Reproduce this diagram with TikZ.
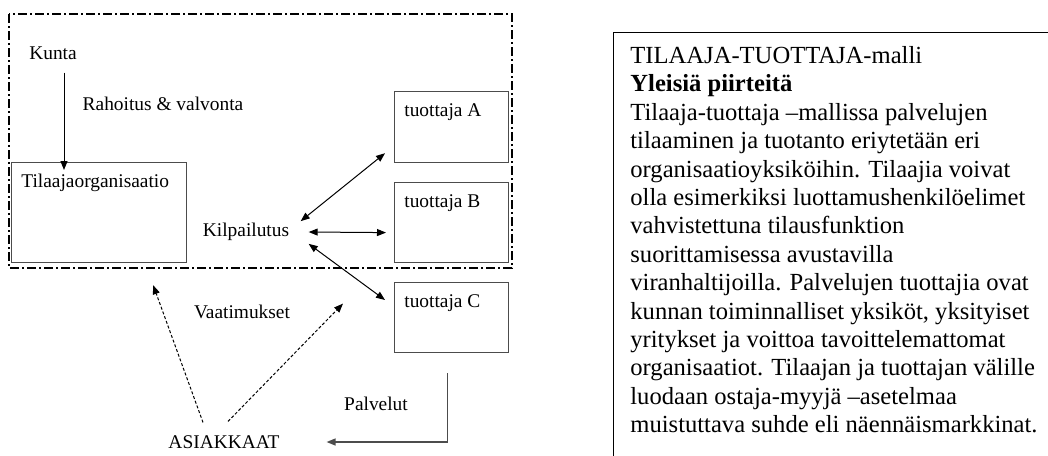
\documentclass[tikz,border=0pt]{standalone}
\usepackage{fontspec}
\setmainfont{Liberation Serif}
\usetikzlibrary{arrows.meta,positioning}

\newcommand{\smallfont}{\fontsize{9.7}{11.6}\selectfont}
\newcommand{\panelfont}{\fontsize{12.3}{14.2}\selectfont}

\tikzset{
  box/.style={draw=black!70, line width=0.6pt, anchor=north west, inner sep=0pt},
  boxtext/.style={anchor=west, inner sep=0pt, font=\smallfont},
  lbl/.style={font=\smallfont},
  link/.style={<->, line width=0.5pt},
  req/.style={->, dash pattern=on 1.5pt off 1pt, line width=0.5pt},
  area/.style={line width=0.6pt, dash pattern=on 4.5pt off 1.5pt on 1pt off 1.5pt}
}

\begin{document}
\begin{tikzpicture}[x=0.5pt, y=-0.5pt, >={Triangle[length=4.5pt,width=3.5pt]}]
\useasboundingbox (0,0) rectangle (1048,455);
\clip (0,0) rectangle (1048,455);

% tilaajan puoli
\draw[area] (9,14) rectangle (512,268);
\node[lbl] (kunta) at (53,53) {Kunta};
\node[lbl] (rah) at (163,104) {Rahoitus \& valvonta};
\node[box, minimum width=87.5pt, minimum height=50pt] (tilaaja) at (11,162) {};
\node[boxtext] (tilaajat) at ([shift={(10,21)}]tilaaja.north west) {Tilaajaorganisaatio};
\node[lbl] (kilp) at (246,232) {Kilpailutus};

% tuottajat
\node[box, minimum width=57pt, minimum height=35.5pt] (A) at (394,91) {};
\node[boxtext] (At) at ([shift={(10,21)}]A.north west) {tuottaja A};
\node[box, minimum width=57pt, minimum height=40pt] (B) at (394,182) {};
\node[boxtext] (Bt) at ([shift={(10,21)}]B.north west) {tuottaja B};
\node[box, minimum width=57pt, minimum height=35pt] (C) at (394,282) {};
\node[boxtext] (Ct) at ([shift={(10,21)}]C.north west) {tuottaja C};

% asiakkaat
\node[lbl] (vaat) at (242,312) {Vaatimukset};
\node[lbl] (palv) at (376,404) {Palvelut};
\node[lbl] (asiak) at (224,442) {ASIAKKAAT};

\draw[->, line width=0.5pt] ([shift={(11,6)}]kunta.south) -- ([shift={(53,8)}]tilaaja.north west);
\draw[link] ([shift={(4.5,5)}]kilp.north east) -- ([shift={(-9,-10)}]A.south west);
\draw[link] ([shift={(12.5,0)}]kilp.east) -- ([shift={(-8,10)}]B.west);
\draw[link] ([shift={(12.5,-4)}]kilp.south east) -- ([shift={(-9,18)}]C.north west);
\draw[req] ([shift={(-21,-6)}]asiak.north) -- ([shift={(-34,22)}]tilaaja.south east);
\draw[req] ([shift={(4,-7)}]asiak.north) -- ([shift={(-51,-14)}]C.west);
\draw[->, draw=black!70, line width=0.7pt] ([shift={(-4,20)}]C.south) |- ([shift={(40,0)}]asiak.east);

% selitys
\node[box, draw=black, minimum width=260pt, minimum height=240pt] (panel) at (613,32) {};
\node[anchor=north west, align=left, inner sep=0pt, font=\panelfont] (txt) at (630,46)
  {TILAAJA-TUOTTAJA-malli\\
   \textbf{Yleisiä piirteitä}\\
   Tilaaja-tuottaja –mallissa palvelujen\\
   tilaaminen ja tuotanto eriytetään eri\\
   organisaatioyksiköihin. Tilaajia voivat\\
   olla esimerkiksi luottamushenkilöelimet\\
   vahvistettuna tilausfunktion\\
   suorittamisessa avustavilla\\
   viranhaltijoilla. Palvelujen tuottajia ovat\\
   kunnan toiminnalliset yksiköt, yksityiset\\
   yritykset ja voittoa tavoittelemattomat\\
   organisaatiot. Tilaajan ja tuottajan välille\\
   luodaan ostaja-myyjä –asetelmaa\\
   muistuttava suhde eli näennäismarkkinat.};
\end{tikzpicture}
\end{document}
